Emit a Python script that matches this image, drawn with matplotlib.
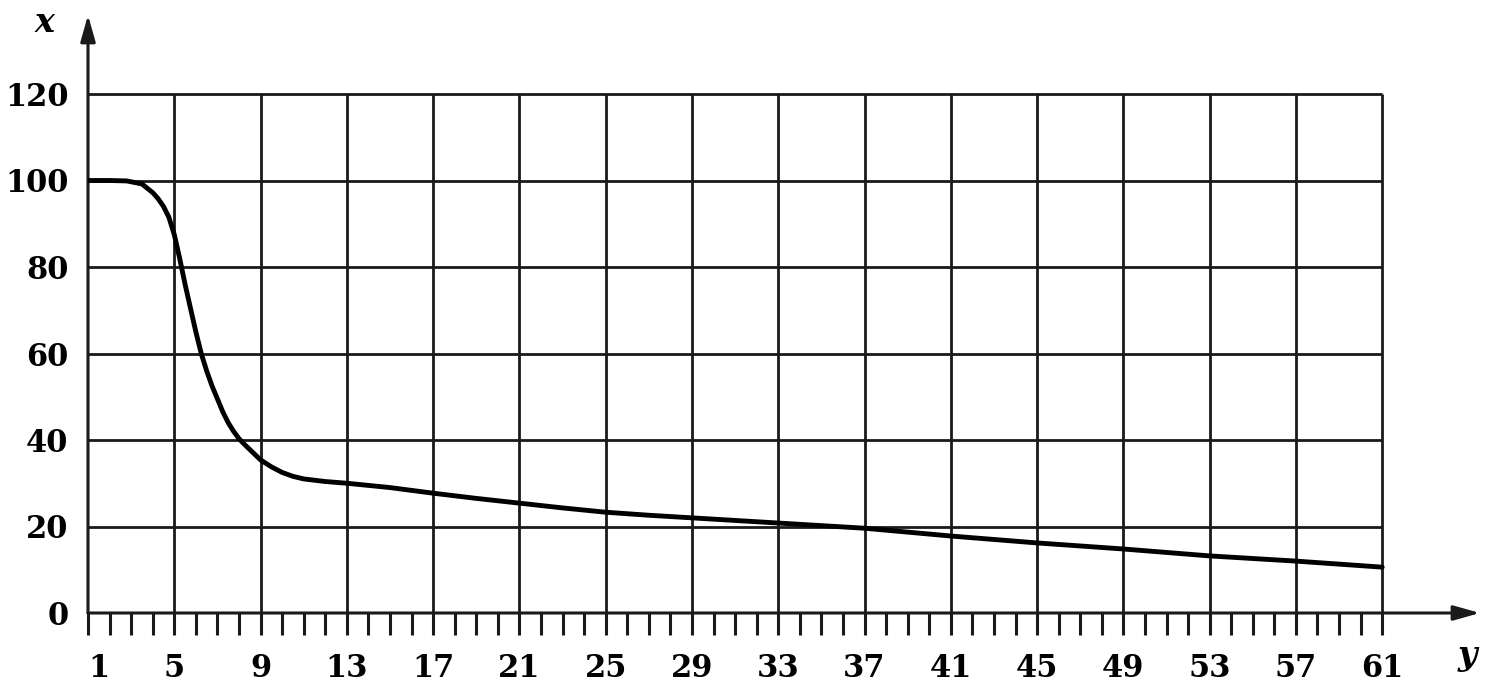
import matplotlib
matplotlib.use('Agg')
import matplotlib.pyplot as plt
import numpy as np

# Points
y_vals = [1, 2, 2.8, 3.5, 4, 4.25, 4.5, 4.75, 5, 5.25, 5.5, 5.75, 6, 6.25, 6.5, 6.75,
          7, 7.25, 7.5, 7.75, 8, 8.25, 8.5, 8.75, 9, 9.5, 10, 10.5, 11, 12, 13,
          15, 17, 19, 21, 23, 25, 27, 29, 31, 33, 35, 37, 39, 41, 43, 45, 47, 49,
          51, 53, 55, 57, 59, 61]
x_vals = [100, 100, 99.9, 99.2, 97.2, 95.8, 94, 91.5, 87.5, 82, 76, 70.5, 65, 60, 56, 52.5,
          49.5, 46.5, 44, 42, 40.3, 39, 37.8, 36.6, 35.4, 33.8, 32.5, 31.6, 31, 30.4, 30,
          29, 27.7, 26.5, 25.4, 24.3, 23.3, 22.6, 22, 21.4, 20.8, 20.2, 19.6, 18.7,
          17.8, 17, 16.2, 15.5, 14.8, 14, 13.2, 12.6, 12, 11.3, 10.6]

x_ticks = list(range(1, 62, 4))
y_ticks = [0, 20, 40, 60, 80, 100, 120]

W, H = 1500, 695
fig = plt.figure(figsize=(15, 6.95), dpi=100)
ax = fig.add_axes([88 / W, (H - 613) / H, (1480 - 88) / W, (613 - 15) / H])

xmax = 1 + (1480 - 88) / 21.57
ymax = (613 - 15) / 4.325
ax.set_xlim(1, xmax)
ax.set_ylim(0, ymax)
for s in ax.spines.values():
    s.set_visible(False)

c = '#1a1a1a'
# quadrillage
ax.hlines(y_ticks[1:], 1, 61, color=c, lw=2.0, zorder=1)
ax.vlines(x_ticks[1:], 0, 120, color=c, lw=2.0, zorder=1)

# axes avec flèches
ax.annotate('', xy=(xmax, 0), xytext=(1, 0),
            arrowprops=dict(arrowstyle='-|>,head_length=1.6,head_width=0.45', color=c, lw=2.2,
                            shrinkA=0, shrinkB=0), annotation_clip=False)
ax.annotate('', xy=(1, ymax), xytext=(1, 0),
            arrowprops=dict(arrowstyle='-|>,head_length=1.6,head_width=0.45', color=c, lw=2.2,
                            shrinkA=0, shrinkB=0), annotation_clip=False)

# courbe
ax.plot(y_vals, x_vals, color='black', lw=3.5, zorder=3,
        solid_capstyle='round', solid_joinstyle='round')

font = dict(family='DejaVu Serif', weight='bold', size=22)
ax.set_xticks(x_ticks)
labels = ax.set_xticklabels([str(t) for t in x_ticks], **font)
labels[0].set_horizontalalignment('left')
ax.set_xticks(range(1, 62), minor=True)
ax.set_yticks(y_ticks)
ax.set_yticklabels([str(t) for t in y_ticks], **font)
ax.tick_params(axis='x', which='both', direction='out', length=16, width=2.2, color=c, pad=13)
ax.tick_params(axis='y', length=0, pad=14)

fig.text(45 / W, 1 - 22 / H, 'x', ha='center', va='center', fontsize=24,
         family='DejaVu Serif', style='italic', weight='bold')
fig.text(1467 / W, 1 - 655 / H, 'y', ha='center', va='center', fontsize=24,
         family='DejaVu Serif', style='italic', weight='bold')

fig.savefig('out.png', dpi=100, facecolor='white')
